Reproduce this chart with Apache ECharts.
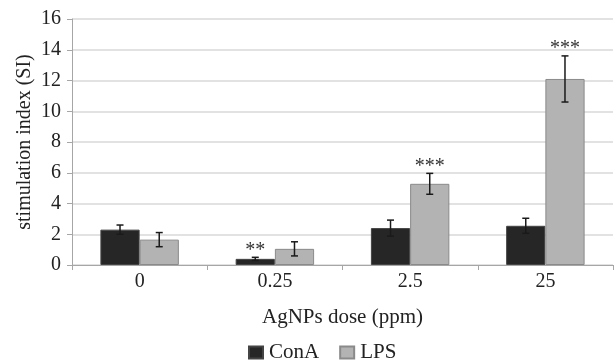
<!DOCTYPE html>
<html><head><meta charset="utf-8">
<script src="https://cdn.jsdelivr.net/npm/echarts@6/dist/echarts.min.js"></script>
<style>html,body{margin:0;padding:0;background:#fff}#c{width:614px;height:361px}</style>
</head><body><div id="c"></div>
<script>
const categories = ['0', '0.25', '2.5', '25'];
const conA = [2.3, 0.4, 2.4, 2.55];
const conAErr = [0.3, 0.1, 0.52, 0.49];
const lps = [1.65, 1.05, 5.28, 12.1];
const lpsErr = [0.46, 0.46, 0.68, 1.5];
const conASig = ['', '**', '', ''];
const lpsSig = ['', '', '***', '***'];
const yTicks = [0, 2, 4, 6, 8, 10, 12, 14, 16];

const FONT = 'Liberation Serif';
const GAP = 0.42;

function errSeries(name, vals, errs, sigs, side) {
  return {
    type: 'custom', name: name + ' err', z: 10, silent: true,
    data: vals.map((v, i) => [i, v, errs[i]]),
    renderItem: function (params, api) {
      const i = api.value(0), v = api.value(1), e = api.value(2);
      const sig = sigs[i];
      const band = api.size([1, 0])[0];
      const bw = band * (1 - GAP) / 2;
      const c = api.coord([i, v]);
      const x = c[0] + side * bw / 2;
      const yt = api.coord([i, v + e])[1];
      const yb = api.coord([i, v - e])[1];
      const st = { stroke: '#1a1a1a', lineWidth: 1.5 };
      const children = [
        { type: 'line', shape: { x1: x, y1: yt, x2: x, y2: yb }, style: st },
        { type: 'line', shape: { x1: x - 3.5, y1: yt, x2: x + 3.5, y2: yt }, style: st },
        { type: 'line', shape: { x1: x - 3.5, y1: yb, x2: x + 3.5, y2: yb }, style: st }
      ];
      if (sig) {
        children.push({ type: 'text', style: { text: sig, x: x, y: yt + 3, align: 'center', verticalAlign: 'bottom', font: '20px "' + FONT + '"', fill: '#333' } });
      }
      return { type: 'group', children: children };
    }
  };
}

const chart = echarts.init(document.getElementById('c'));
chart.setOption({
  animation: false,
  textStyle: { fontFamily: FONT },
  grid: { left: 72, right: 1, top: 19, bottom: 96, outerBoundsMode: 'none', containLabel: false },
  legend: {
    data: ['ConA', 'LPS'], top: 337, left: 243,
    itemWidth: 14, itemHeight: 12, itemGap: 20,
    textStyle: { fontFamily: FONT, fontSize: 21, color: '#222', padding: [0, 0, 0, 1] },
    icon: 'rect'
  },
  xAxis: {
    type: 'category', data: categories,
    name: 'AgNPs dose (ppm)', nameLocation: 'middle', nameGap: 42,
    nameTextStyle: { fontFamily: FONT, fontSize: 21, color: '#222' },
    axisLine: { lineStyle: { color: '#a6a6a6', width: 1 } },
    axisTick: { show: true, length: 5, lineStyle: { color: '#a6a6a6' } },
    axisLabel: { fontFamily: FONT, fontSize: 20, color: '#222', margin: 7 }
  },
  yAxis: {
    type: 'value', min: 0, max: 16, interval: 2,
    name: 'stimulation index (SI)', nameLocation: 'middle', nameGap: 37, nameMoveOverlap: false,
    nameTextStyle: { fontFamily: FONT, fontSize: 20, color: '#222' },
    axisLine: { show: true, lineStyle: { color: '#a6a6a6', width: 1 } },
    axisTick: { show: true, length: 5, lineStyle: { color: '#a6a6a6' } },
    axisLabel: { fontFamily: FONT, fontSize: 20, color: '#222', margin: 11,
      formatter: v => yTicks.includes(v) ? String(v) : '' },
    splitLine: { lineStyle: { color: '#d9d9d9', width: 1.5 } }
  },
  series: [
    { type: 'bar', name: 'ConA', data: conA, barGap: '0%', barCategoryGap: (GAP * 100) + '%',
      itemStyle: { color: '#262626', borderColor: '#444', borderWidth: 1 } },
    { type: 'bar', name: 'LPS', data: lps, barGap: '0%', barCategoryGap: (GAP * 100) + '%',
      itemStyle: { color: '#b3b3b3', borderColor: '#8a8a8a', borderWidth: 1 } },
    errSeries('ConA', conA, conAErr, conASig, -1),
    errSeries('LPS', lps, lpsErr, lpsSig, 1)
  ]
});
</script></body></html>
